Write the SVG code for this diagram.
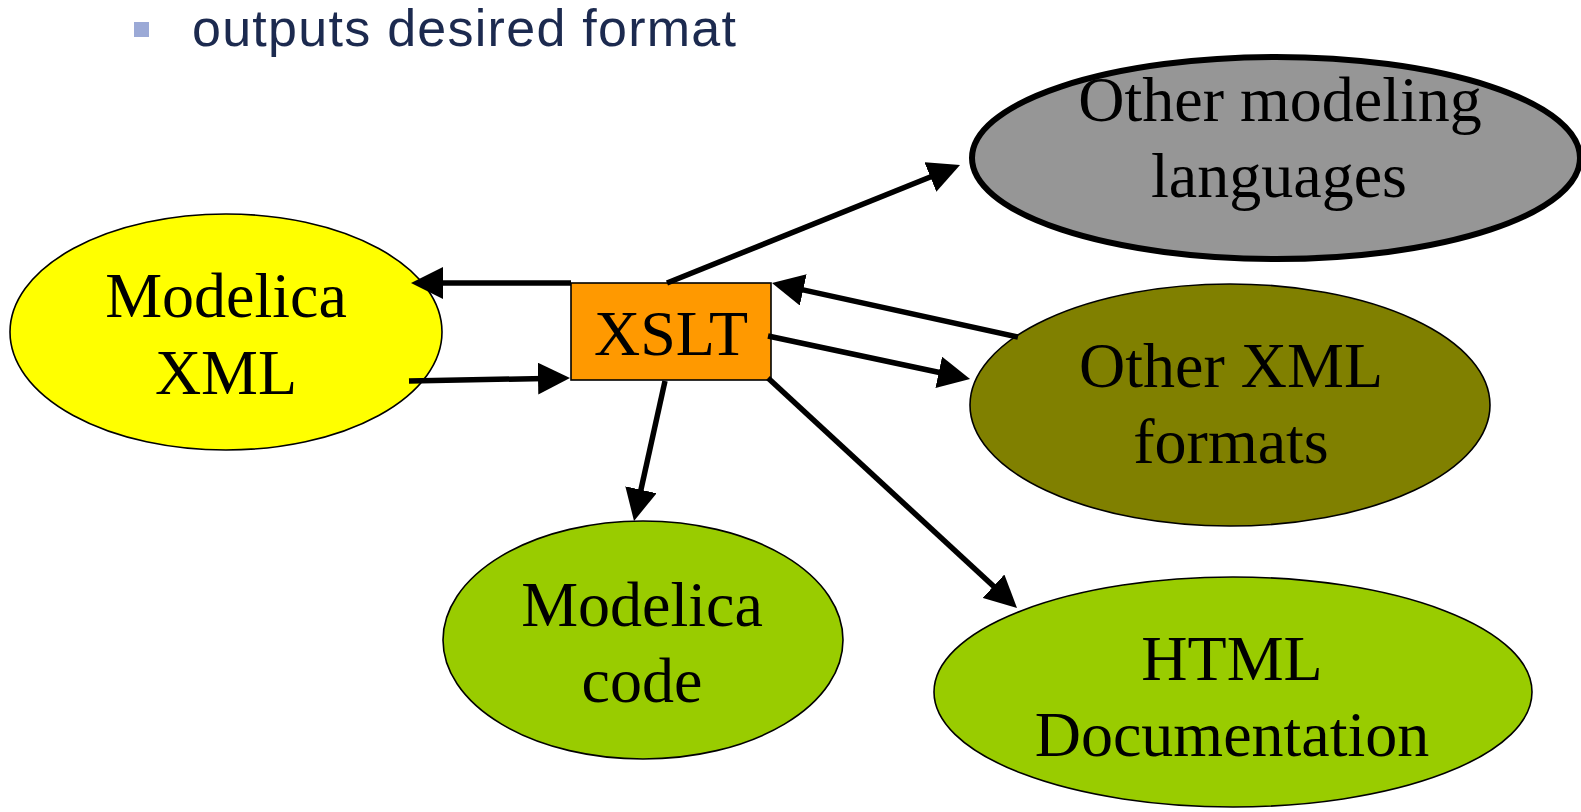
<svg xmlns="http://www.w3.org/2000/svg" width="1581" height="812" viewBox="0 0 1581 812">
  <style>
    .node { stroke: #000; stroke-width: 1.6; }
    .thick { stroke-width: 6; }
    .lbl { font-family: "Liberation Serif", "Times New Roman", serif; font-size: 64px; fill: #000; text-anchor: middle; }
    .edge { stroke: #000; stroke-width: 5.5; fill: none; marker-end: url(#head); }
    .bullet-text { font-family: "Liberation Sans", Arial, sans-serif; font-size: 52px; fill: #1C2A4F; }
  </style>
  <defs>
    <marker id="head" markerUnits="userSpaceOnUse" markerWidth="34" markerHeight="32" refX="20" refY="16" orient="auto">
      <path d="M0,0 L32,16 L0,32 Z" fill="#000"/>
    </marker>
  </defs>
  <rect width="1581" height="812" fill="#fff"/>

  <!-- bullet line -->
  <g id="bullet">
    <rect x="134" y="22" width="15" height="15" fill="#9BA9D6"/>
    <text class="bullet-text" x="192" y="46" textLength="544" lengthAdjust="spacing">outputs desired format</text>
  </g>

  <g id="modelica-xml">
    <ellipse class="node" cx="226" cy="332" rx="216" ry="118" fill="#FFFF00"/>
    <text class="lbl" x="226" y="317">Modelica</text>
    <text class="lbl" x="226" y="394">XML</text>
  </g>

  <g id="xslt">
    <rect class="node" x="571" y="283" width="200" height="97" fill="#FF9900"/>
    <text class="lbl" x="671" y="355">XSLT</text>
  </g>

  <g id="other-modeling">
    <ellipse class="node thick" cx="1276" cy="158" rx="304" ry="101" fill="#969696"/>
    <text class="lbl" x="1280" y="121">Other modeling</text>
    <text class="lbl" x="1279" y="197">languages</text>
  </g>

  <g id="other-xml">
    <ellipse class="node" cx="1230" cy="405" rx="260" ry="121" fill="#808000"/>
    <text class="lbl" x="1231" y="387">Other XML</text>
    <text class="lbl" x="1231" y="463">formats</text>
  </g>

  <g id="modelica-code">
    <ellipse class="node" cx="643" cy="640" rx="200" ry="119" fill="#99CC00"/>
    <text class="lbl" x="642" y="626">Modelica</text>
    <text class="lbl" x="642" y="702">code</text>
  </g>

  <g id="html-doc">
    <ellipse class="node" cx="1233" cy="692" rx="299" ry="115" fill="#99CC00"/>
    <text class="lbl" x="1232" y="680">HTML</text>
    <text class="lbl" x="1232" y="756">Documentation</text>
  </g>

  <!-- connectors, drawn over the nodes; line end sits 12px short of each arrow tip -->
  <g id="connectors">
    <line class="edge" x1="571" y1="283" x2="423" y2="283"/>
    <line class="edge" x1="409" y1="381" x2="558" y2="378.2"/>
    <line class="edge" x1="667" y1="283" x2="948.9" y2="169.5"/>
    <line class="edge" x1="1018" y1="337" x2="783.7" y2="285.6"/>
    <line class="edge" x1="768" y1="336" x2="958.3" y2="376.5"/>
    <line class="edge" x1="665" y1="381" x2="636.6" y2="509.3"/>
    <line class="edge" x1="768" y1="378" x2="1008.2" y2="599.8"/>
  </g>
</svg>
